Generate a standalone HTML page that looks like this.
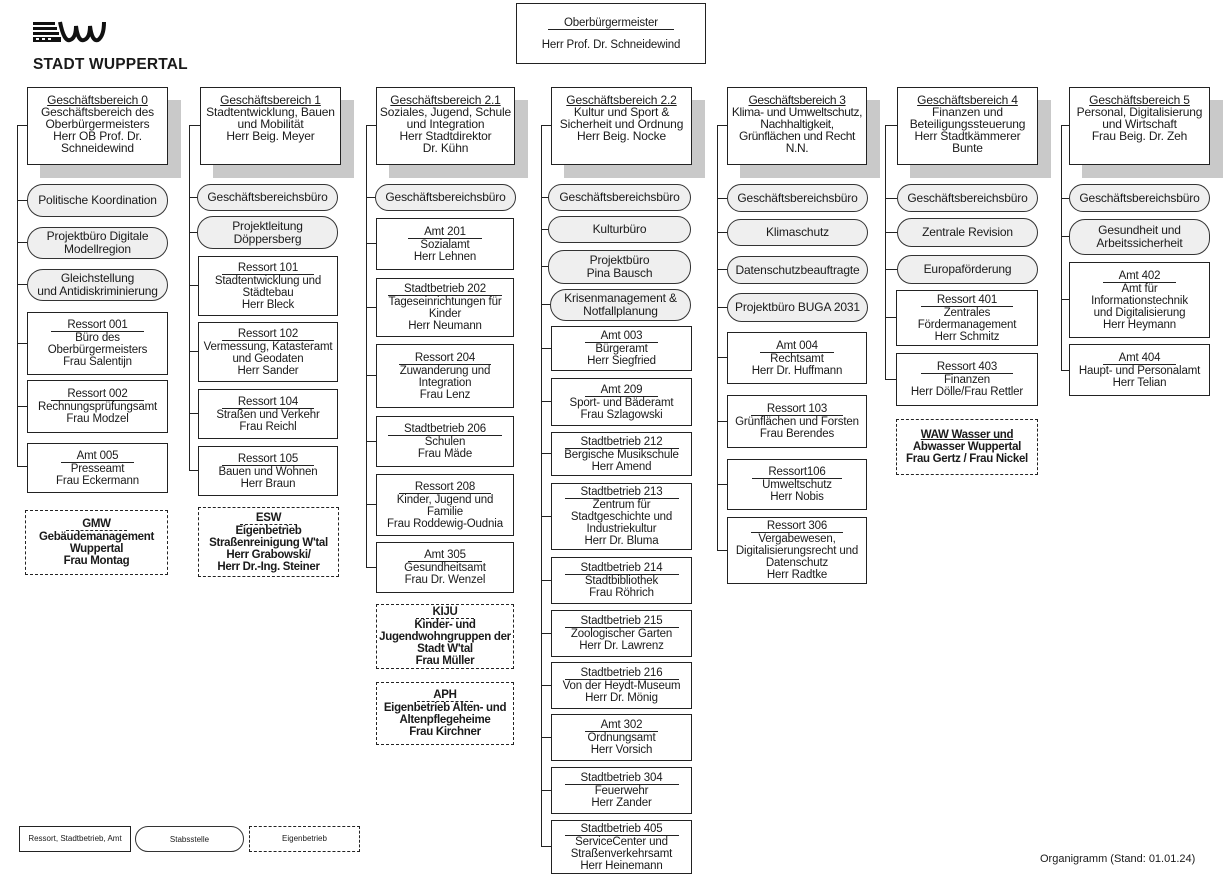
<!DOCTYPE html>
<html><head><meta charset="utf-8"><style>
body{margin:0;width:1224px;height:877px;background:#fff;position:relative;overflow:hidden;font-family:"Liberation Sans",Arial,sans-serif;color:#1a1a1a}
.b,.s,.d,.hd{position:absolute;box-sizing:border-box;display:flex;align-items:center;justify-content:center;text-align:center;font-size:11.5px;line-height:12px;background:#fff;white-space:nowrap;letter-spacing:-0.15px}
.b{border:1px solid #222}
.hd{border:1px solid #222;box-shadow:13px 13px 0 #c9c9c9;align-items:flex-start;padding-top:6px;font-size:12px}
.s{border:1px solid #333;border-radius:16px;background:#efefef;font-size:12px;line-height:13px}
.d{border:1px dashed #222;font-weight:bold;font-size:11.5px;letter-spacing:-0.3px}
.t{display:inline-block;border-bottom:1px solid #222;padding:0 16px;line-height:11px}
.u{text-decoration:underline}
.v{position:absolute;width:1px;background:#222}
.h{position:absolute;height:1px;background:#222}
</style></head><body>

<svg style="position:absolute;left:30px;top:18px" width="80" height="28" viewBox="0 0 80 28">
<rect x="3" y="4" width="22" height="3" fill="#111"/><rect x="3" y="9" width="24" height="3" fill="#111"/><rect x="3" y="14" width="26" height="3" fill="#111"/>
<rect x="3" y="19" width="28" height="5" fill="#111"/>
<rect x="6" y="20" width="3" height="2" fill="#fff"/><rect x="12" y="20" width="3" height="2" fill="#fff"/><rect x="18" y="20" width="3" height="2" fill="#fff"/>
<path d="M30 4 Q34 24 40 22 Q46 20 46 8 Q48 24 54 22 Q60 20 60 8 Q62 24 68 22 Q74 18 74 4" fill="none" stroke="#111" stroke-width="4"/>
</svg>
<div style="position:absolute;left:33px;top:56px;font-size:15.5px;font-weight:bold;letter-spacing:0.2px">STADT WUPPERTAL</div>

<div class="b" style="left:516px;top:3px;width:190px;height:61px;flex-direction:column"><div><span class="t">Oberbürgermeister</span></div><div style="margin-top:9px">Herr Prof. Dr. Schneidewind</div></div>

<!-- Column 0 -->
<div class="v" style="left:17px;top:125px;height:342px"></div>
<div class="h" style="left:17px;top:125px;width:10px"></div><div class="h" style="left:17px;top:200px;width:10px"></div><div class="h" style="left:17px;top:242px;width:10px"></div><div class="h" style="left:17px;top:284px;width:10px"></div><div class="h" style="left:17px;top:343px;width:10px"></div><div class="h" style="left:17px;top:406px;width:10px"></div><div class="h" style="left:17px;top:466px;width:10px"></div>
<div class="hd" style="left:27px;top:87px;width:141px;height:78px"><div><span class="u">Geschäftsbereich 0</span><br>Geschäftsbereich des<br>Oberbürgermeisters<br>Herr OB Prof. Dr.<br>Schneidewind</div></div>
<div class="s" style="left:27px;top:184px;width:141px;height:33px">Politische Koordination</div>
<div class="s" style="left:27px;top:227px;width:141px;height:32px">Projektbüro Digitale<br>Modellregion</div>
<div class="s" style="left:27px;top:269px;width:141px;height:32px">Gleichstellung<br>und Antidiskriminierung</div>
<div class="b" style="left:27px;top:312px;width:141px;height:63px"><div><span class="t">Ressort 001</span><br>Büro des<br>Oberbürgermeisters<br>Frau Salentijn</div></div>
<div class="b" style="left:27px;top:380px;width:141px;height:53px"><div><span class="t">Ressort 002</span><br>Rechnungsprüfungsamt<br>Frau Modzel</div></div>
<div class="b" style="left:27px;top:443px;width:141px;height:50px"><div><span class="t">Amt 005</span><br>Presseamt<br>Frau Eckermann</div></div>
<div class="d" style="left:25px;top:510px;width:143px;height:65px"><div><span class="t" style="border-bottom-style:dashed">GMW</span><br>Gebäudemanagement<br>Wuppertal<br>Frau Montag</div></div>

<!-- Column 1 -->
<div class="v" style="left:189px;top:125px;height:346px"></div>
<div class="h" style="left:189px;top:125px;width:11px"></div><div class="h" style="left:189px;top:197px;width:11px"></div><div class="h" style="left:189px;top:232px;width:11px"></div><div class="h" style="left:189px;top:285px;width:11px"></div><div class="h" style="left:189px;top:351px;width:11px"></div><div class="h" style="left:189px;top:413px;width:11px"></div><div class="h" style="left:189px;top:470px;width:11px"></div>
<div class="hd" style="left:200px;top:87px;width:141px;height:78px"><div><span class="u">Geschäftsbereich 1</span><br>Stadtentwicklung, Bauen<br>und Mobilität<br>Herr Beig. Meyer</div></div>
<div class="s" style="left:197px;top:184px;width:141px;height:27px">Geschäftsbereichsbüro</div>
<div class="s" style="left:197px;top:216px;width:141px;height:33px">Projektleitung<br>Döppersberg</div>
<div class="b" style="left:198px;top:256px;width:140px;height:60px"><div><span class="t">Ressort 101</span><br>Stadtentwicklung und<br>Städtebau<br>Herr Bleck</div></div>
<div class="b" style="left:198px;top:322px;width:140px;height:60px"><div><span class="t">Ressort 102</span><br>Vermessung, Katasteramt<br>und Geodaten<br>Herr Sander</div></div>
<div class="b" style="left:198px;top:389px;width:140px;height:50px"><div><span class="t">Ressort 104</span><br>Straßen und Verkehr<br>Frau Reichl</div></div>
<div class="b" style="left:198px;top:446px;width:140px;height:50px"><div><span class="t">Ressort 105</span><br>Bauen und Wohnen<br>Herr Braun</div></div>
<div class="d" style="left:198px;top:507px;width:141px;height:70px"><div><span class="t" style="border-bottom-style:dashed">ESW</span><br>Eigenbetrieb<br>Straßenreinigung W'tal<br>Herr Grabowski/<br>Herr Dr.-Ing. Steiner</div></div>

<!-- Column 2 -->
<div class="v" style="left:366px;top:125px;height:443px"></div>
<div class="h" style="left:366px;top:125px;width:10px"></div><div class="h" style="left:366px;top:197px;width:10px"></div><div class="h" style="left:366px;top:243px;width:10px"></div><div class="h" style="left:366px;top:307px;width:10px"></div><div class="h" style="left:366px;top:375px;width:10px"></div><div class="h" style="left:366px;top:441px;width:10px"></div><div class="h" style="left:366px;top:504px;width:10px"></div><div class="h" style="left:366px;top:567px;width:10px"></div>
<div class="hd" style="left:376px;top:87px;width:139px;height:78px"><div><span class="u">Geschäftsbereich 2.1</span><br>Soziales, Jugend, Schule<br>und Integration<br>Herr Stadtdirektor<br>Dr. Kühn</div></div>
<div class="s" style="left:375px;top:184px;width:141px;height:27px">Geschäftsbereichsbüro</div>
<div class="b" style="left:376px;top:218px;width:138px;height:52px"><div><span class="t">Amt 201</span><br>Sozialamt<br>Herr Lehnen</div></div>
<div class="b" style="left:376px;top:278px;width:138px;height:59px"><div><span class="t">Stadtbetrieb 202</span><br>Tageseinrichtungen für<br>Kinder<br>Herr Neumann</div></div>
<div class="b" style="left:376px;top:344px;width:138px;height:64px"><div><span class="t">Ressort 204</span><br>Zuwanderung und<br>Integration<br>Frau Lenz</div></div>
<div class="b" style="left:376px;top:416px;width:138px;height:51px"><div><span class="t">Stadtbetrieb 206</span><br>Schulen<br>Frau Mäde</div></div>
<div class="b" style="left:376px;top:474px;width:138px;height:62px"><div><span class="t">Ressort 208</span><br>Kinder, Jugend und<br>Familie<br>Frau Roddewig-Oudnia</div></div>
<div class="b" style="left:376px;top:542px;width:138px;height:51px"><div><span class="t">Amt 305</span><br>Gesundheitsamt<br>Frau Dr. Wenzel</div></div>
<div class="d" style="left:376px;top:604px;width:138px;height:65px"><div><span class="t" style="border-bottom-style:dashed">KIJU</span><br>Kinder- und<br>Jugendwohngruppen der<br>Stadt W'tal<br>Frau Müller</div></div>
<div class="d" style="left:376px;top:682px;width:138px;height:63px"><div><span class="t" style="border-bottom-style:dashed">APH</span><br>Eigenbetrieb Alten- und<br>Altenpflegeheime<br>Frau Kirchner</div></div>

<!-- Column 3 -->
<div class="v" style="left:541px;top:125px;height:722px"></div>
<div class="h" style="left:541px;top:125px;width:10px"></div><div class="h" style="left:541px;top:197px;width:10px"></div><div class="h" style="left:541px;top:229px;width:10px"></div><div class="h" style="left:541px;top:266px;width:10px"></div><div class="h" style="left:541px;top:304px;width:10px"></div><div class="h" style="left:541px;top:348px;width:10px"></div><div class="h" style="left:541px;top:401px;width:10px"></div><div class="h" style="left:541px;top:453px;width:10px"></div><div class="h" style="left:541px;top:516px;width:10px"></div><div class="h" style="left:541px;top:580px;width:10px"></div><div class="h" style="left:541px;top:633px;width:10px"></div><div class="h" style="left:541px;top:685px;width:10px"></div><div class="h" style="left:541px;top:737px;width:10px"></div><div class="h" style="left:541px;top:790px;width:10px"></div><div class="h" style="left:541px;top:846px;width:10px"></div>
<div class="hd" style="left:551px;top:87px;width:141px;height:78px"><div><span class="u">Geschäftsbereich 2.2</span><br>Kultur und Sport &amp;<br>Sicherheit und Ordnung<br>Herr Beig. Nocke</div></div>
<div class="s" style="left:548px;top:184px;width:143px;height:27px">Geschäftsbereichsbüro</div>
<div class="s" style="left:548px;top:216px;width:143px;height:27px">Kulturbüro</div>
<div class="s" style="left:548px;top:250px;width:143px;height:34px">Projektbüro<br>Pina Bausch</div>
<div class="s" style="left:550px;top:289px;width:141px;height:32px">Krisenmanagement &amp;<br>Notfallplanung</div>
<div class="b" style="left:551px;top:326px;width:141px;height:45px"><div><span class="t">Amt 003</span><br>Bürgeramt<br>Herr Siegfried</div></div>
<div class="b" style="left:551px;top:378px;width:141px;height:48px"><div><span class="t">Amt 209</span><br>Sport- und Bäderamt<br>Frau Szlagowski</div></div>
<div class="b" style="left:551px;top:432px;width:141px;height:44px"><div><span class="t">Stadtbetrieb 212</span><br>Bergische Musikschule<br>Herr Amend</div></div>
<div class="b" style="left:551px;top:483px;width:141px;height:67px"><div><span class="t">Stadtbetrieb 213</span><br>Zentrum für<br>Stadtgeschichte und<br>Industriekultur<br>Herr Dr. Bluma</div></div>
<div class="b" style="left:551px;top:557px;width:141px;height:47px"><div><span class="t">Stadtbetrieb 214</span><br>Stadtbibliothek<br>Frau Röhrich</div></div>
<div class="b" style="left:551px;top:610px;width:141px;height:47px"><div><span class="t">Stadtbetrieb 215</span><br>Zoologischer Garten<br>Herr Dr. Lawrenz</div></div>
<div class="b" style="left:551px;top:662px;width:141px;height:47px"><div><span class="t">Stadtbetrieb 216</span><br>Von der Heydt-Museum<br>Herr Dr. Mönig</div></div>
<div class="b" style="left:551px;top:714px;width:141px;height:47px"><div><span class="t">Amt 302</span><br>Ordnungsamt<br>Herr Vorsich</div></div>
<div class="b" style="left:551px;top:767px;width:141px;height:47px"><div><span class="t">Stadtbetrieb 304</span><br>Feuerwehr<br>Herr Zander</div></div>
<div class="b" style="left:551px;top:820px;width:141px;height:54px"><div><span class="t">Stadtbetrieb 405</span><br>ServiceCenter und<br>Straßenverkehrsamt<br>Herr Heinemann</div></div>

<!-- Column 4 -->
<div class="v" style="left:717px;top:125px;height:426px"></div>
<div class="h" style="left:717px;top:125px;width:10px"></div><div class="h" style="left:717px;top:198px;width:10px"></div><div class="h" style="left:717px;top:232px;width:10px"></div><div class="h" style="left:717px;top:269px;width:10px"></div><div class="h" style="left:717px;top:307px;width:10px"></div><div class="h" style="left:717px;top:357px;width:10px"></div><div class="h" style="left:717px;top:421px;width:10px"></div><div class="h" style="left:717px;top:484px;width:10px"></div><div class="h" style="left:717px;top:550px;width:10px"></div>
<div class="hd" style="left:727px;top:87px;width:140px;height:78px;letter-spacing:-0.35px"><div><span class="u">Geschäftsbereich 3</span><br>Klima- und Umweltschutz,<br>Nachhaltigkeit,<br>Grünflächen und Recht<br>N.N.</div></div>
<div class="s" style="left:727px;top:184px;width:141px;height:28px">Geschäftsbereichsbüro</div>
<div class="s" style="left:727px;top:219px;width:141px;height:27px">Klimaschutz</div>
<div class="s" style="left:727px;top:256px;width:141px;height:28px">Datenschutzbeauftragte</div>
<div class="s" style="left:727px;top:293px;width:141px;height:29px">Projektbüro BUGA 2031</div>
<div class="b" style="left:727px;top:332px;width:140px;height:52px"><div><span class="t">Amt 004</span><br>Rechtsamt<br>Herr Dr. Huffmann</div></div>
<div class="b" style="left:727px;top:395px;width:140px;height:53px"><div><span class="t">Ressort 103</span><br>Grünflächen und Forsten<br>Frau Berendes</div></div>
<div class="b" style="left:727px;top:459px;width:140px;height:51px"><div><span class="t">Ressort106</span><br>Umweltschutz<br>Herr Nobis</div></div>
<div class="b" style="left:727px;top:517px;width:140px;height:67px"><div><span class="t">Ressort 306</span><br>Vergabewesen,<br>Digitalisierungsrecht und<br>Datenschutz<br>Herr Radtke</div></div>

<!-- Column 5 -->
<div class="v" style="left:885px;top:125px;height:255px"></div>
<div class="h" style="left:885px;top:125px;width:12px"></div><div class="h" style="left:885px;top:198px;width:12px"></div><div class="h" style="left:885px;top:232px;width:12px"></div><div class="h" style="left:885px;top:269px;width:12px"></div><div class="h" style="left:885px;top:317px;width:12px"></div><div class="h" style="left:885px;top:379px;width:12px"></div>
<div class="hd" style="left:897px;top:87px;width:141px;height:78px"><div><span class="u">Geschäftsbereich 4</span><br>Finanzen und<br>Beteiligungssteuerung<br>Herr Stadtkämmerer<br>Bunte</div></div>
<div class="s" style="left:897px;top:184px;width:141px;height:28px">Geschäftsbereichsbüro</div>
<div class="s" style="left:897px;top:218px;width:141px;height:29px">Zentrale Revision</div>
<div class="s" style="left:897px;top:255px;width:141px;height:29px">Europaförderung</div>
<div class="b" style="left:896px;top:290px;width:142px;height:56px"><div><span class="t">Ressort 401</span><br>Zentrales<br>Fördermanagement<br>Herr Schmitz</div></div>
<div class="b" style="left:896px;top:353px;width:142px;height:53px"><div><span class="t">Ressort 403</span><br>Finanzen<br>Herr Dölle/Frau Rettler</div></div>
<div class="d" style="left:896px;top:419px;width:142px;height:56px"><div><span class="u">WAW Wasser und</span><br>Abwasser Wuppertal<br>Frau Gertz / Frau Nickel</div></div>

<!-- Column 6 -->
<div class="v" style="left:1061px;top:125px;height:246px"></div>
<div class="h" style="left:1061px;top:125px;width:8px"></div><div class="h" style="left:1061px;top:198px;width:8px"></div><div class="h" style="left:1061px;top:236px;width:8px"></div><div class="h" style="left:1061px;top:299px;width:8px"></div><div class="h" style="left:1061px;top:370px;width:8px"></div>
<div class="hd" style="left:1069px;top:87px;width:141px;height:78px"><div><span class="u">Geschäftsbereich 5</span><br>Personal, Digitalisierung<br>und Wirtschaft<br>Frau Beig. Dr. Zeh</div></div>
<div class="s" style="left:1069px;top:184px;width:141px;height:28px">Geschäftsbereichsbüro</div>
<div class="s" style="left:1069px;top:219px;width:141px;height:36px">Gesundheit und<br>Arbeitssicherheit</div>
<div class="b" style="left:1069px;top:262px;width:141px;height:76px"><div><span class="t">Amt 402</span><br>Amt für<br>Informationstechnik<br>und Digitalisierung<br>Herr Heymann</div></div>
<div class="b" style="left:1069px;top:344px;width:141px;height:52px"><div><span class="t">Amt 404</span><br>Haupt- und Personalamt<br>Herr Telian</div></div>

<!-- Legend -->
<div class="b" style="left:19px;top:826px;width:112px;height:26px;font-size:8px;letter-spacing:0">Ressort, Stadtbetrieb, Amt</div>
<div class="s" style="left:135px;top:826px;width:109px;height:26px;font-size:8px;background:#fff;border-radius:13px;letter-spacing:0">Stabsstelle</div>
<div class="d" style="left:249px;top:826px;width:111px;height:26px;font-size:8px;font-weight:normal;letter-spacing:0">Eigenbetrieb</div>
<div style="position:absolute;left:1040px;top:853px;font-size:11px">Organigramm (Stand: 01.01.24)</div>
</body></html>
